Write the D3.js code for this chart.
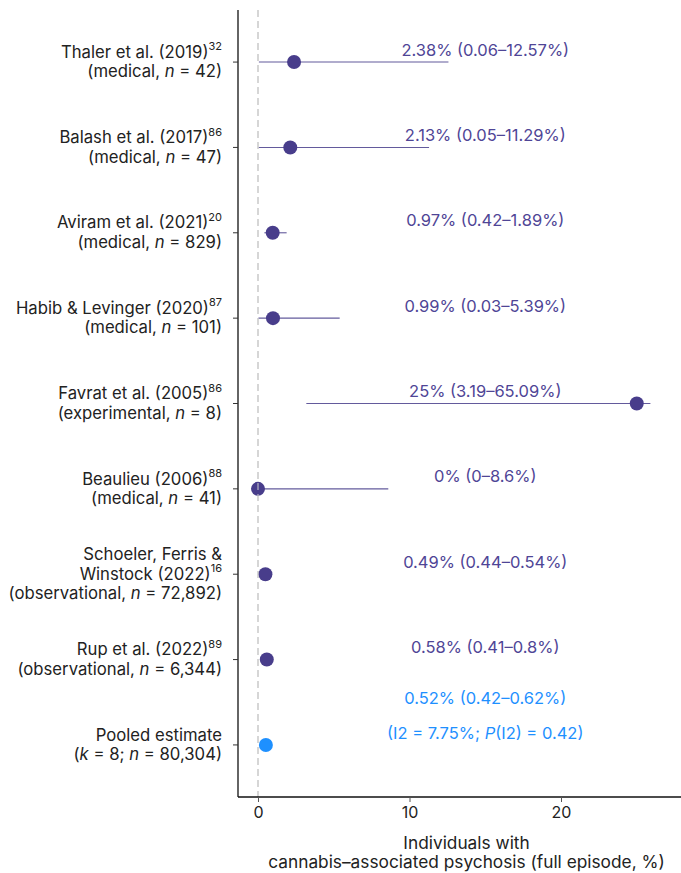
<!DOCTYPE html>
<html>
<head>
<meta charset="utf-8">
<script src="https://cdn.jsdelivr.net/npm/d3@7"></script>
<style>
  html, body { margin: 0; padding: 0; background: #fff; }
  svg { display: block; font-family: Inter, "Noto Sans", sans-serif; }
</style>
</head>
<body>
<svg id="chart" width="681" height="873"></svg>
<script>
// ---- data ----
const authorLines = [
  ["Thaler et al. (2019)"],
  ["Balash et al. (2017)"],
  ["Aviram et al. (2021)"],
  ["Habib & Levinger (2020)"],
  ["Favrat et al. (2005)"],
  ["Beaulieu (2006)"],
  ["Schoeler, Ferris &", "Winstock (2022)"],
  ["Rup et al. (2022)"],
  ["Pooled estimate"]
];
const refNums = ["32", "86", "20", "87", "86", "88", "16", "89", ""];
const designs = ["medical", "medical", "medical", "medical", "experimental", "medical", "observational", "observational", ""];
const sampleSizes = ["42", "47", "829", "101", "8", "41", "72,892", "6,344", "80,304"];
const pooledK = "8";
const estimates = [2.38, 2.13, 0.97, 0.99, 25, 0, 0.49, 0.58, 0.52];
const lowerCI = [0.06, 0.05, 0.42, 0.03, 3.19, 0, 0.44, 0.41, 0.42];
const upperCI = [12.57, 11.29, 1.89, 5.39, 65.09, 8.6, 0.54, 0.8, 0.62];
const valueLabels = [
  "2.38% (0.06–12.57%)",
  "2.13% (0.05–11.29%)",
  "0.97% (0.42–1.89%)",
  "0.99% (0.03–5.39%)",
  "25% (3.19–65.09%)",
  "0% (0–8.6%)",
  "0.49% (0.44–0.54%)",
  "0.58% (0.41–0.8%)",
  "0.52% (0.42–0.62%)"
];
const pooledHetero = { i2: "7.75%", p: "0.42" };
const xTicks = [0, 10, 20];
const xDomain = [-1.32, 27.92];
const ciClip = 25.9;
const labelX = 15;
const xTitle = ["Individuals with", "cannabis–associated psychosis (full episode, %)"];

// ---- layout ----
const svg = d3.select("#chart");
const pLeft = 238, pRight = 681, pTop = 10, pBottom = 797;
const purple = "#483D8B", blue = "#1E90FF";
const nRows = estimates.length;
const idx = d3.range(nRows);
const fs = 16.7;

const x = d3.scaleLinear().domain(xDomain).range([pLeft, pRight]);
const y = d3.scalePoint().domain(idx).range([pTop, pBottom]).padding(0.61);

// reference dashed line
svg.append("line")
  .attr("x1", x(0)).attr("x2", x(0))
  .attr("y1", pTop).attr("y2", pBottom)
  .attr("stroke", "#cfcfcf").attr("stroke-width", 1.4)
  .attr("stroke-dasharray", "7,4");

// CI lines
svg.append("g").selectAll("line").data(idx.filter(i => i < nRows - 1)).join("line")
  .attr("x1", i => x(lowerCI[i]))
  .attr("x2", i => x(Math.min(upperCI[i], ciClip)))
  .attr("y1", i => y(i)).attr("y2", i => y(i))
  .attr("stroke", purple).attr("stroke-width", 1.1).attr("stroke-opacity", 0.85);

// points
svg.append("g").selectAll("circle").data(idx).join("circle")
  .attr("cx", i => x(estimates[i]))
  .attr("cy", i => y(i))
  .attr("r", 7)
  .attr("fill", i => i === nRows - 1 ? blue : purple);

// dashed line over points
svg.append("line")
  .attr("x1", x(0)).attr("x2", x(0))
  .attr("y1", pTop).attr("y2", pBottom)
  .attr("stroke", "#cfcfcf").attr("stroke-width", 1.4)
  .attr("stroke-dasharray", "7,4")
  .attr("stroke-opacity", 0.7);

// value labels
const vl = svg.append("g").attr("font-size", 16.5).attr("text-anchor", "middle");
idx.forEach(i => {
  const isPooled = i === nRows - 1;
  const col = isPooled ? blue : "#4f4596";
  if (!isPooled) {
    vl.append("text").attr("x", x(labelX)).attr("y", y(i) - 6.5)
      .attr("fill", col).text(valueLabels[i]);
  } else {
    vl.append("text").attr("x", x(labelX)).attr("y", y(i) - 40.5)
      .attr("fill", col).text(valueLabels[i]);
    const t = vl.append("text").attr("x", x(labelX)).attr("y", y(i) - 5.5).attr("fill", col);
    t.append("tspan").text("(I2 = " + pooledHetero.i2 + "; ");
    t.append("tspan").attr("font-style", "italic").text("P");
    t.append("tspan").text("(I2) = " + pooledHetero.p + ")");
  }
});

// axes lines
svg.append("line").attr("x1", pLeft).attr("x2", pLeft).attr("y1", pTop).attr("y2", pBottom)
  .attr("stroke", "#111").attr("stroke-width", 1.3);
svg.append("line").attr("x1", pLeft).attr("x2", pRight).attr("y1", pBottom).attr("y2", pBottom)
  .attr("stroke", "#111").attr("stroke-width", 1.3);

// y ticks
svg.append("g").selectAll("line").data(idx).join("line")
  .attr("x1", pLeft - 5).attr("x2", pLeft)
  .attr("y1", i => y(i)).attr("y2", i => y(i))
  .attr("stroke", "#333").attr("stroke-width", 1);

// x axis ticks & labels
const xa = svg.append("g").attr("transform", `translate(0,${pBottom})`)
  .call(d3.axisBottom(x).tickValues(xTicks).tickSize(5).tickPadding(5).tickFormat(d3.format("d")));
xa.select(".domain").remove();
xa.selectAll(".tick line").attr("stroke", "#555");
xa.selectAll(".tick text").attr("font-size", 16).attr("fill", "#222")
  .attr("font-family", "Inter, sans-serif");

// x title
const xt = svg.append("text").attr("text-anchor", "middle").attr("font-size", 17.3).attr("fill", "#222");
xTitle.forEach((s, k) => {
  xt.append("tspan").attr("x", (pLeft + pRight) / 2 + 7).attr("y", 849 + k * 18.5).text(s);
});

// y labels
const lh = 19.6;
const yl = svg.append("g").attr("font-size", fs).attr("fill", "#222").attr("text-anchor", "end");
idx.forEach(i => {
  const lines = authorLines[i].length + 1;
  const y0 = y(i) - (lines - 1) * lh / 2 + 5.5;
  const tx = pLeft - 16;
  authorLines[i].forEach((s, k) => {
    const isLast = k === authorLines[i].length - 1;
    const t = yl.append("text").attr("x", tx).attr("y", y0 + k * lh);
    t.append("tspan").text(s);
    if (isLast && refNums[i]) {
      t.append("tspan").attr("font-size", 11).attr("dy", -7.5).text(refNums[i]);
    }
  });
  const t2 = yl.append("text").attr("x", tx).attr("y", y0 + authorLines[i].length * lh);
  if (i === nRows - 1) {
    t2.append("tspan").text("(");
    t2.append("tspan").attr("font-style", "italic").text("k");
    t2.append("tspan").text(" = " + pooledK + "; ");
    t2.append("tspan").attr("font-style", "italic").text("n");
    t2.append("tspan").text(" = " + sampleSizes[i] + ")");
  } else {
    t2.append("tspan").text("(" + designs[i] + ", ");
    t2.append("tspan").attr("font-style", "italic").text("n");
    t2.append("tspan").text(" = " + sampleSizes[i] + ")");
  }
});
</script>
</body>
</html>
